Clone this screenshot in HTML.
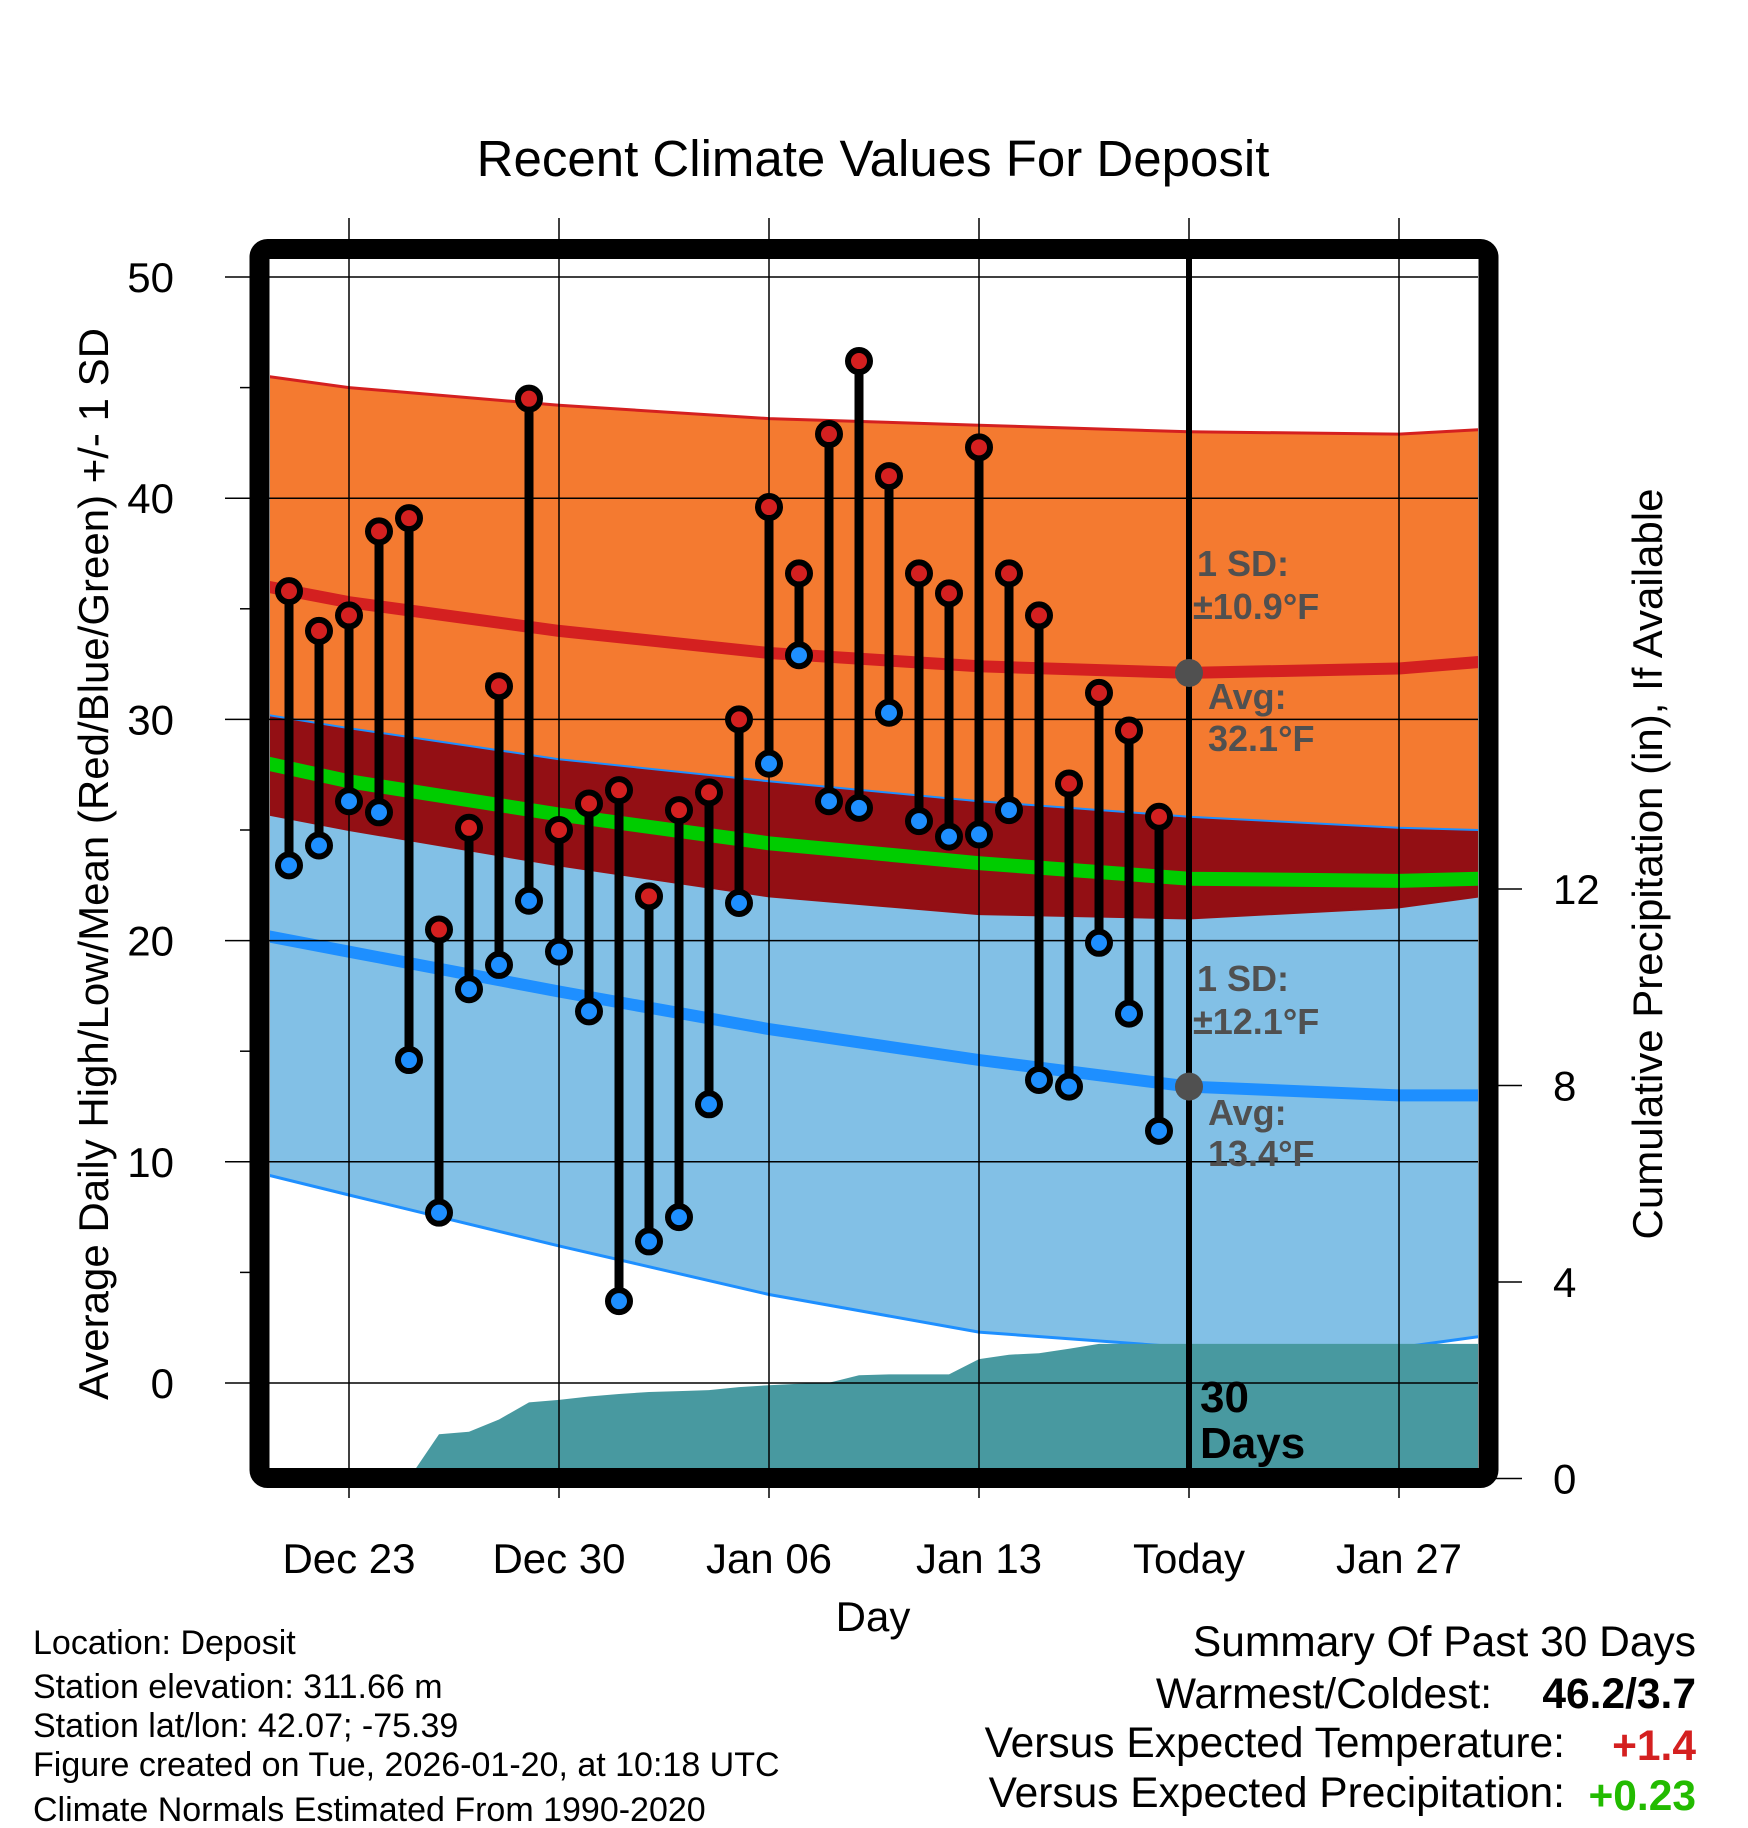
<!DOCTYPE html>
<html><head><meta charset="utf-8"><style>
html,body{margin:0;padding:0;background:#fff;}
svg{display:block;font-family:"Liberation Sans",sans-serif;}
</style></head><body>
<svg id="chart" width="1748" height="1828" viewBox="0 0 1748 1828" xmlns="http://www.w3.org/2000/svg">
<defs><clipPath id="plotclip"><rect x="270" y="259" width="1208" height="1210"/></clipPath></defs>
<rect width="1748" height="1828" fill="#fff"/>
<text x="873" y="176" text-anchor="middle" font-size="51">Recent Climate Values For Deposit</text>
<g id="plot" clip-path="url(#plotclip)"></g>
<g id="overlay"></g>
<text transform="translate(108,864) rotate(-90)" text-anchor="middle" font-size="42">Average Daily High/Low/Mean (Red/Blue/Green) +/- 1 SD</text>
<text transform="translate(1662,864) rotate(-90)" text-anchor="middle" font-size="42">Cumulative Precipitation (in), If Available</text>
<text x="873" y="1631" text-anchor="middle" font-size="42">Day</text>
<g font-size="34">
<text x="33" y="1654">Location: Deposit</text>
<text x="33" y="1698">Station elevation: 311.66 m</text>
<text x="33" y="1737">Station lat/lon: 42.07; -75.39</text>
<text x="33" y="1776">Figure created on Tue, 2026-01-20, at 10:18 UTC</text>
<text x="33" y="1821">Climate Normals Estimated From 1990-2020</text>
</g>
<g font-size="42.5">
<text x="1696" y="1656" text-anchor="end">Summary Of Past 30 Days</text>
<text x="1492" y="1708" text-anchor="end">Warmest/Coldest:</text>
<text x="1696" y="1708" text-anchor="end" font-weight="bold">46.2/3.7</text>
<text x="1565" y="1757" text-anchor="end">Versus Expected Temperature:</text>
<text x="1696" y="1760" text-anchor="end" font-weight="bold" fill="#d42020">+1.4</text>
<text x="1565" y="1807" text-anchor="end">Versus Expected Precipitation:</text>
<text x="1696" y="1810" text-anchor="end" font-weight="bold" fill="#22bb00">+0.23</text>
</g>
</svg>
<script>
// ---- data ----
const obsDays = [0,1,2,3,4,5,6,7,8,9,10,11,12,13,14,15,16,17,18,19,20,21,22,23,24,25,26,27,28,29]; // days after Dec 21
const highs = [35.8,34,34.7,38.5,39.1,20.5,25.1,31.5,44.5,25,26.2,26.8,22,25.9,26.7,30,39.6,36.6,42.9,46.2,41,36.6,35.7,42.3,36.6,34.7,27.1,31.2,29.5,25.6];
const lows = [23.4,24.3,26.3,25.8,14.6,7.7,17.8,18.9,21.8,19.5,16.8,3.7,6.4,7.5,12.6,21.7,28,32.9,26.3,26,30.3,25.4,24.7,24.8,25.9,13.7,13.4,19.9,16.7,11.4];
const normDays = [-0.7,2,9,16,23,30,37,39.7];
const hiPlusSD = [45.5,45.0,44.2,43.6,43.3,43.0,42.9,43.1];
const hiAvg = [36.0,35.3,34.0,33.0,32.4,32.1,32.3,32.6];
const hiMinusSD = [30.2,29.6,28.2,27.2,26.3,25.6,25.1,25.0];
const meanAvg = [28.0,27.2,25.7,24.4,23.5,22.8,22.7,22.8];
const loPlusSD = [25.7,25.0,23.4,22.0,21.2,21.0,21.5,22.0];
const loAvg = [20.2,19.5,17.7,16.0,14.6,13.4,13.0,13.0];
const loMinusSD = [9.4,8.5,6.2,4.0,2.3,1.6,1.6,2.1];
const precipDays = [4,5,6,7,8,9,10,11,12,13,14,15,16,17,18,19,20,21,22,23,24,25,26,27,28,29,39.7];
const precipVals = [0,0.9,0.95,1.2,1.55,1.6,1.67,1.72,1.76,1.78,1.8,1.86,1.9,1.93,1.95,2.1,2.12,2.12,2.12,2.43,2.52,2.55,2.64,2.74,2.74,2.74,2.74];
const xTickDays = [2,9,16,23,30,37];
const xTickLabels = ["Dec 23","Dec 30","Jan 06","Jan 13","Today","Jan 27"];
const yTicks = [0,10,20,30,40,50];
const y2Ticks = [0,4,8,12];
// ---- scales ----
const X = d => 289 + d*30;
const Y = v => 1383 - v*22.12;
const Y2 = v => 1478.5 - v*49.125;
const NS="http://www.w3.org/2000/svg";
const plot=document.getElementById('plot'), svg=document.getElementById('chart');
function mk(tag,attrs,parent){const e=document.createElementNS(NS,tag);for(const k in attrs)e.setAttribute(k,attrs[k]);parent.appendChild(e);return e;}
function pts(days,vals){return days.map((d,i)=>X(d).toFixed(1)+','+Y(vals[i]).toFixed(1));}
function band(a,b,fill,name){
  const p=pts(normDays,a).concat(pts(normDays,b).reverse());
  const e=mk('polygon',{points:p.join(' '),fill:fill},plot);
  
  
}
function line(vals,color,w,name){
  const e=mk('polyline',{points:pts(normDays,vals).join(' '),fill:'none',stroke:color,'stroke-width':w,'stroke-linejoin':'round'},plot);
  
  
}
band(hiPlusSD,hiMinusSD,'#f47a30','high-sd-band');
band(hiMinusSD,loPlusSD,'#930f14','overlap-band');
band(loPlusSD,loMinusSD,'#82c0e6','low-sd-band');
line(hiPlusSD,'#d42020',3,'high-plus-sd-line');
line(hiMinusSD,'#1e8fff',2,'high-minus-sd-line');
line(loPlusSD,'#930f14',2,'low-plus-sd-line');
line(loMinusSD,'#1e8fff',3,'low-minus-sd-line');
line(meanAvg,'#00cc00',14,'mean-avg-line');
line(hiAvg,'#d42020',12,'high-avg-line');
line(loAvg,'#1e8fff',12,'low-avg-line');
{
  let p=[X(precipDays[0])+','+Y2(-1)];
  precipDays.forEach((d,i)=>p.push(X(d).toFixed(1)+','+Y2(precipVals[i]).toFixed(1)));
  p.push(X(precipDays[precipDays.length-1])+','+Y2(-1));
  const e=mk('polygon',{points:p.join(' '),fill:'#4899a0'},plot);
  
  
}
yTicks.forEach(v=>{
  const e=mk('line',{x1:225,x2:1478,y1:Y(v),y2:Y(v),stroke:'#000','stroke-width':1.5},svg);
  
  
  const t=mk('text',{x:174,y:Y(v)+15,'text-anchor':'end','font-size':42},svg);
  t.textContent=v;
  
  
});
[5,15,25,35,45].forEach(v=>{
  const e=mk('line',{x1:240,x2:255,y1:Y(v),y2:Y(v),stroke:'#000','stroke-width':1.5},svg);
  
  
});
xTickDays.forEach((d,i)=>{
  const e=mk('line',{x1:X(d),x2:X(d),y1:218,y2:1498,stroke:'#000','stroke-width':1.5},svg);
  
  
  const t=mk('text',{x:X(d),y:1573,'text-anchor':'middle','font-size':42},svg);
  t.textContent=xTickLabels[i];
  
  
});
y2Ticks.forEach(v=>{
  const e=mk('line',{x1:1488,x2:1522,y1:Y2(v),y2:Y2(v),stroke:'#000','stroke-width':1.5},svg);
  
  
  const t=mk('text',{x:1553,y:Y2(v)+15,'font-size':42},svg);
  t.textContent=v;
  
  
});
{
  const e=mk('line',{x1:X(30),x2:X(30),y1:249,y2:1478,stroke:'#000','stroke-width':6},svg);
  
  
}
obsDays.forEach((d,i)=>{
  const e=mk('line',{x1:X(d),x2:X(d),y1:Y(highs[i]),y2:Y(lows[i]),stroke:'#000','stroke-width':9},svg);
  
  
});
obsDays.forEach((d,i)=>{
  const h=mk('circle',{cx:X(d),cy:Y(highs[i]),r:11,fill:'#d42020',stroke:'#000','stroke-width':6},svg);
  
  
  const l=mk('circle',{cx:X(d),cy:Y(lows[i]),r:11,fill:'#1e8fff',stroke:'#000','stroke-width':6},svg);
  
  
});
{
  const e=mk('rect',{x:259.5,y:249,width:1229,height:1229,rx:8,fill:'none',stroke:'#000','stroke-width':20},svg);
  
  
}
function ann(x,y,txt,name,fill,size){
  const t=mk('text',{x:x,y:y,'font-size':size||36,'font-weight':'bold',fill:fill||'#505050'},svg);
  t.textContent=txt;
  
  
  return t;
}
{
  const c1=mk('circle',{cx:X(30),cy:Y(32.1),r:14,fill:'#505050'},svg);
  
  
  const c2=mk('circle',{cx:X(30),cy:Y(13.4),r:14,fill:'#505050'},svg);
  
  
}
ann(1197,576,'1 SD:','high-sd-label');
ann(1193,619,'±10.9°F','high-sd-value');
ann(1208,709,'Avg:','high-avg-label');
ann(1208,751,'32.1°F','high-avg-value');
ann(1197,991,'1 SD:','low-sd-label');
ann(1193,1034,'±12.1°F','low-sd-value');
ann(1208,1125,'Avg:','low-avg-label');
ann(1208,1166,'13.4°F','low-avg-value');
ann(1200,1412,'30','days-count-label','#000',44);
ann(1200,1458,'Days','days-label','#000',44);
</script>
</body></html>
